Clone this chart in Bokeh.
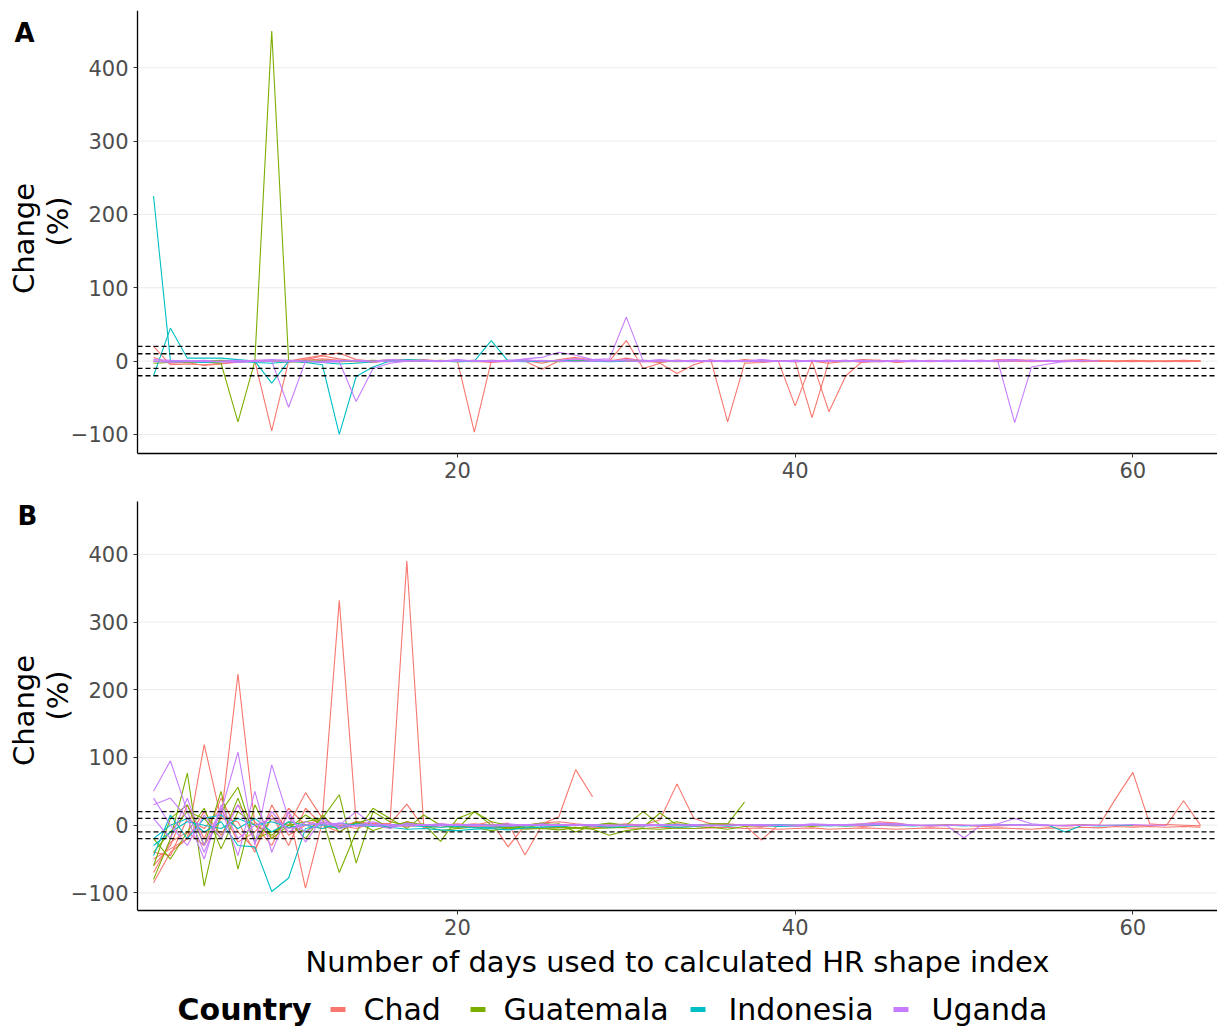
import math
from bokeh.plotting import figure
from bokeh.layouts import column
from bokeh.models import Label, FixedTicker, Range1d
from bokeh.embed import file_html
from bokeh.resources import INLINE
from bokeh.core.properties import value

# ---------------- data ----------------
countries = ["Chad", "Guatemala", "Indonesia", "Uganda"]
colors = ["#F8766D", "#7CAE00", "#00BFC4", "#C77CFF"]

x_ticks = [20, 40, 60]
y_ticks = [-100, 0, 100, 200, 300, 400]
thresholds = [-20, -10, 10, 20]
x_title = "Number of days used to calculated HR shape index"
y_title = ["Change", "(%)"]
legend_title = "Country"

# Panel A: one entry per individual -> country, first day, % change per day
a_country = ["Chad", "Chad", "Chad", "Chad", "Guatemala", "Guatemala",
             "Indonesia", "Indonesia", "Uganda", "Uganda", "Uganda"]
a_start = [2, 2, 10, 30, 2, 2, 2, 2, 2, 2, 2]
a_values = [
    [20, -5, -4, -5, -3, -2, 0, -95,
     0, 2, 7, 3, 0, -2, 1, 0, 2, 0,
     0, -97, 0, 1, 0, -11, 0, 3, 2, 0,
     28, -10, -3, -17, -5, 2, -83, -3, -2, 0,
     -61, 0, -3, 0, 2, 1, -2, 0, 1, 0,
     0, -1, 2, 1, 0, 0, -1, 0, 1, -1,
     0, 0, -1, 0, 0],
    [5, -3, -2, -6, -4, -1, 1, 0,
     -2, 1, 3, 1, -1, 0, 2, 1, 0, -1,
     1, 0, -2, 0, 1, -3, 2, 5, 1, 0,
     4, 0, -2, 1, 0, 0, -1, 2, 0, 0,
     0, -77, 0, 1, -2, 0, 1, 0, -1, 0,
     1, 0, 0, 2, 1, 0, 1, 2, 0, 0,
     -1, 0, 0, 1, 0],
    [0, 4, 8, 11, 2, 0, -1, 0, 1, 0,
     0, 1, 0, -1, 0, 0, 1, 0, 0, 1,
     0, 0, -1, 0, 0, 1, 0, 0, 1, 0,
     0, 0, -69, -20, 0, -1, 0, 1, 0, 0,
     0, 1, 0, 0, -1, 0, 0, 1, 0, 0,
     0, -1, 0, 0, 0],
    [0, -1, 0, 1, 0, -1, 0, 0, 1, 0,
     -1, 0, 1, 0, 0, 1, -1, 0, 0, 1,
     0, 0, -1, 0, 1, 0, 0, -1, 0, 0,
     1, 0, 0, -1, 0],
    [0, -1, -2, -1, -3, -83, 0, 450,
     0, -2, 1, 0, -1, 0, 1, 0, 0, 1,
     0, -1, 0, 0, 1, 0, -1, 0, 1, 0,
     0, 1, 0, -1, 0, 0],
    [-3, -2, -1, 0, 1, 0, -1, 0,
     1, 0, 0, -1, 0, 1, 0, 2, 0, 0,
     -1, 0, 1, 0, 0, -1, 0, 0, 1, 0,
     0, 0, -1, 0, 1, 0, 0, -1, 0, 0,
     1, 0, 0, -1, 0, 0],
    [225, 0, -1, -2, -1, 0, -2, -3,
     -1, 0, -2, -4, -3, -1, 0, 1, 0, 0,
     -1, 0, 0, 1, 0, 0],
    [-20, 45, 4, 4, 4, 2, 0, -30,
     0, -2, -5, -100, -21, -8, 0, 2, 1, 0,
     0, 0, 28, 0, -1, 0, 1, 0, 0, -1,
     0],
    [0, -2, -1, 0, -1, -2, 0, 0,
     -63, 0, -2, -1, -55, -10, -3, 0, 1, 0,
     2, 0, 1, 0, 3, 5, 12, 8, 2, 3,
     60, 0, 2, 0, -1, 1, 0, 0, 2, 0,
     -1, 0, 1, 0, 0, -1, 0, 1, 0, 0,
     1, 0, 0, -84, -8, -4, 0, 1, 0],
    [2, 1, 0, 1, -1, 0, 1, 2,
     1, 0, -1, 0, 1, 0, 2, 1, 0, 0,
     1, 0, 0, 1, 2, 0, 1, 3, 1, 0,
     2, 1, 0, 0, 1, 0, -1, 0, 1, 0,
     0, 1, 0, 0, 1, 0, 0, -1, 0, 1,
     0, 0, 1, 2, 0, 1, 0, 0],
    [-1, 0, 1, -1, 0, 1, -1, 0,
     0, -1, 0, 1, 0, -1, 0, 0, 1, 0,
     0, 1, -1, 0, 0, 1, 0, -1, 0, 1,
     0, -1, 0, 1, 0, 0, 1, 0, -1, 0,
     1, 0, 0, 1, -1, 0, 1, 0, 0, -1,
     0, 1, 0, 0, 1, 0, -1],
]

# Panel B
b_country = ["Chad", "Chad", "Chad", "Chad", "Chad", "Chad",
             "Guatemala", "Guatemala", "Guatemala", "Guatemala",
             "Indonesia", "Indonesia", "Indonesia",
             "Uganda", "Uganda", "Uganda", "Uganda"]
b_start = [2, 2, 2, 2, 2, 20, 2, 2, 2, 2, 2, 2, 2, 2, 2, 2, 2]
b_values = [
    [-85, -40, -20, 119, 10, 223, 0, -30,
     20, -93, 5, 0, -5, 3, 2, 31, -4, 0,
     2, 0, 5, -32, 0, 2, 12, 82, 42],
    [-60, -30, 30, -20, 40, -10, -35, 10,
     0, 48, 10, 332, 5, 0, 2, 390, 0, -3,
     0, 2, 0, 3, -44, 0, 1, 0, -1, 0,
     2, 0, 8, 61, 10, 2, 2, 0, -22, 0,
     -1, 0, 1, 0, -2, 0, 1, 0, -1, 0,
     0, -1, 0, 1, 0, 0, -1, 0, 0, 40,
     78, 2, 0, 36, 0],
    [-70, -25, -10, -30, 10, 5, -40, 30,
     -15, 0, -5, 0, 3, 0, -3, 5, 0, 2,
     0, 1, 0, -1, 0, 2, 0, 1, -1, 0,
     1, 0, 0, 2, 0, -1, 0, 1, 0, 0,
     -1, 0, 0, 1, 0, 0, -1, 0, 0, 1,
     0],
    [-50, -35, -20, 20, -15, 30, 5, -20,
     25, 0, 10, -3, 5, 2, 0, -2, 0, 1,
     0, -2, 0, 1, 0, 3, 5, 2, 0, -1,
     0, 1, 0, -1, 0, 0, 1, 0, -2, 0,
     0, 1, 0, 0, 2, 5, 3, 0, -1, 0,
     0, -2, -1, 0, 0, -1, 0, 1, 0, 0,
     -1, 0, 1, 0, -1],
    [-40, -45, 10, -5, 25, -25, -10, 15,
     -30, 25, 0, -10, 5, 0, -3, 2, 0, 1,
     0],
    [-3, -2, -4, -3, -5, -4, -3, -5, -4, -3,
     -4, -5, -3, -4, -5, -4, -3, -5, -4, -6,
     -5, -4, -6, -5, -4, -5, -6, -5, -4, -5,
     -6, -5, -4, -5, -6, -4, -5, -3, -4, -2,
     -3, -2, -3, -2, -3],
    [-80, -20, 77, -90, 20, 56, -20, -10,
     0, 5, 10, 45, -56, 20, 5, 0, 2, -24,
     10, 20, 0, -5, 0, 3, 0, -5, 0, 2,
     0, 20, 0, 5, 0, 2, 2, 34],
    [-60, 10, 30, -30, 50, -65, 30, -20,
     0, -10, 10, -70, -10, 25, 10, -5, 15, 0,
     -5, 20, 5, 0, -3, 0, 2, -10, 0, 3,
     0, -3, 18, 0, -2, 0, 1, 0, -1, 0,
     0],
    [-40, -10, 20, 10, -20, 40, -25, 10,
     -5, 15, 0, -5, 3, 10, -5, 5, 0, -8,
     -5, -3, -8, -4, -6, -5, -7, -4, -6, -15,
     -8, -5, -6, -4, -5, -3, -6, -2, 0, -1,
     0, -2, 0, -1, 0, 0],
    [-20, -50, -10, 25, -35, 20, 0, -15,
     5, -20, 15, -10, 5, -8, 0, 4, -2, 0,
     -3, 0, -2, -4, -3, -5, -4, -3, -5, -4,
     -3],
    [-20, 0, 10, -10, 5, -30, -32, -98,
     -78, -5, 0, -5, 2, 0, -3, -6, -5, -7,
     -8, -6, -5, -7, -4, -3, -2, 0, -1, -3,
     -2, 0, -1, -3, -2, 0, -1, 0, 0, -2,
     -1, 0, 0, -1, 0, 0],
    [-30, -10, 5, 0, -5, 10, 0, 5,
     -3, 0, 2, -2, 0, 1, -1, 0, -2, -3,
     -2, -4, -3, -2, 0, -1, -2, 0, 1, -1,
     0, -1, 0, 1, 0, 0, -1, 0, 0, 1,
     0, 0, -1, 0, 0, 1, 0, -1, 0, 0,
     -1, 0, 0, 1, 0, 0, -10, 0, -1, 0,
     0],
    [-45, 15, -20, 10, 15, -5, 10, -10,
     5, 0, -5, 3, 0, -2, 1, 0, -1, 0,
     0, 1, 0, 0, -1, 0],
    [50, 95, 20, -40, 20, 108, -30, 89,
     10, -10, 5, 0, 20, 0, -5, 3, 0, 2,
     0, -1, 0, 2, 0, 1, 0, 0, -1, 0,
     0],
    [30, 40, 10, -50, 30, -20, 0, 10,
     -5, 0, 3, -2, 0, 1, 0, -1, 0, 0,
     1, 0, -1, 0, 0, 2, 0, 1, 0, 0,
     0, 1, 0, 0, -1, 0, 0, 1, 0, 0,
     -1, 0, 0, 1, 2, 3, 2, 0, 0, -1,
     -19, 0, 0, 1, 0, 0, -1, 0, 0, 0,
     1, 0, 0],
    [10, -20, 40, -30, 25, -45, 50, -40,
     20, -25, 10, -5, 0, 5, -2, 0, 1, 0,
     0, 1, 0, -1, 0, 0, 1, 0, 0, -1,
     0, 0, 1, 0, 0, -1, 0, 0, 1, 0,
     0, 2, 1, 0, 0, 1, 0, 0, -1, 0,
     0, 0, 1, 0, 0, 0],
    [40, 0, -30, 15, -20, 30, -25, 20,
     -10, 5, 0, 3, -2, 0, 1, 0, 0, 1,
     0, 0, -1, 0, 1, 0, 0, 0, 1, 0,
     0, -1, 0, 0, 1, 0, 0, 0, -1, 0,
     0, 1, 0, 0, 0, 1, 2, 0, 0, 0,
     0, 0, 2, 10, 2, 0, 0, 0, 0],
]

# ---------------- style / layout ----------------
FONT = "DejaVu Sans"
PAGE_W = 1217
PAGE_H = 1030
PX_PER_DAY = 16.885
AX_LEFT_PX = 137                 # page x of the panel's left edge
X_PANEL_LO = 1.05                # day value at the panel's left edge
X_LO = X_PANEL_LO - AX_LEFT_PX / PX_PER_DAY
X_HI = X_PANEL_LO + (PAGE_W - AX_LEFT_PX) / PX_PER_DAY
Y_LO, Y_HI = -126.0, 478.0       # visible panel limits (both panels)


def build_panel(tag, s_country, s_start, s_values, height, b_top, b_bottom,
                panel_top, panel_h, pad_top, tag_pos, change_pos, pct_pos):
    # the frame starts pad_top px above the drawn panel so that the tag
    # letter has room; the y mapping of the panel itself is unchanged
    units_per_px = (Y_HI - Y_LO) / panel_h
    y_hi_frame = Y_HI + pad_top * units_per_px
    frame_top = panel_top - pad_top
    p = figure(width=PAGE_W, height=height,
               x_range=Range1d(X_LO, X_HI), y_range=Range1d(Y_LO, y_hi_frame),
               output_backend="svg", toolbar_location=None,
               min_border_left=0, min_border_right=0,
               min_border_top=b_top, min_border_bottom=b_bottom)
    p.outline_line_color = None
    p.background_fill_color = "white"
    p.border_fill_color = "white"
    p.grid.visible = False
    p.xaxis.ticker = FixedTicker(ticks=x_ticks)
    p.yaxis.ticker = FixedTicker(ticks=y_ticks)
    p.yaxis.fixed_location = X_PANEL_LO
    p.yaxis.bounds = (Y_LO, Y_HI)
    p.xaxis.bounds = (X_PANEL_LO, X_HI)
    for ax in (p.xaxis, p.yaxis):
        ax.axis_line_color = "black"
        ax.axis_line_width = 1.3
        ax.major_tick_line_color = "#333333"
        ax.major_tick_in = 0
        ax.major_tick_out = 4
        ax.minor_tick_line_color = None
        ax.major_label_text_font = FONT
        ax.major_label_text_font_size = "21px"
        ax.major_label_text_color = "#4D4D4D"
    p.xaxis.major_label_standoff = 4
    p.yaxis.major_label_standoff = 5

    # horizontal major grid lines across the panel only
    p.segment(x0=[X_PANEL_LO] * len(y_ticks), x1=[X_HI] * len(y_ticks),
              y0=y_ticks, y1=y_ticks, line_color="#EBEBEB", line_width=1)

    for c, col in zip(countries, colors):
        xs, ys = [], []
        for sc, st, vals in zip(s_country, s_start, s_values):
            if sc == c:
                xs.append([st + i for i in range(len(vals))])
                ys.append(vals)
        p.multi_line(xs=xs, ys=ys, line_color=col, line_width=1.1)

    # dashed reference lines at +-10 % and +-20 %
    p.segment(x0=[X_PANEL_LO] * len(thresholds), x1=[X_HI] * len(thresholds),
              y0=thresholds, y1=thresholds, line_color="black",
              line_width=1.3, line_dash="5 3")

    def px2x(px):
        return X_LO + px / PX_PER_DAY

    def py2y(py):
        return y_hi_frame - (py - frame_top) * units_per_px

    p.add_layout(Label(x=px2x(tag_pos[0]), y=py2y(tag_pos[1]), text=tag,
                       text_font=FONT, text_font_size="26px",
                       text_font_style="bold", text_align="center",
                       text_baseline="middle", text_color="black"))
    for txt, pos in zip(y_title, (change_pos, pct_pos)):
        p.add_layout(Label(x=px2x(pos[0]), y=py2y(pos[1]), text=txt,
                           angle=math.pi / 2, text_font=FONT,
                           text_font_size="29px", text_align="center",
                           text_baseline="middle", text_color="black"))
    return p


PAD_B = 8
pA = build_panel("A", a_country, a_start, a_values, height=501 - PAD_B,
                 b_top=10, b_bottom=48 - PAD_B, panel_top=10, panel_h=443,
                 pad_top=0, tag_pos=(24, 32), change_pos=(23, 238),
                 pct_pos=(57, 221))
pB = build_panel("B", b_country, b_start, b_values, height=443 + PAD_B,
                 b_top=0, b_bottom=34, panel_top=501, panel_h=409,
                 pad_top=PAD_B, tag_pos=(27, 515), change_pos=(23, 710),
                 pct_pos=(57, 695))

# ---------------- x title + legend row ----------------
ROW_TOP = 501 + 443                   # page y where this row starts
ROW_H = PAGE_H - ROW_TOP
leg = figure(width=PAGE_W, height=ROW_H, x_range=Range1d(0, PAGE_W),
             y_range=Range1d(0, ROW_H), output_backend="svg",
             toolbar_location=None, min_border=0)
leg.axis.visible = False
leg.grid.visible = False
leg.outline_line_color = None
leg.background_fill_color = "white"
leg.border_fill_color = "white"

title_mid = PAGE_H - 961      # x-axis title centre line
leg_mid = PAGE_H - 1009       # legend centre line
leg.text(x=[677], y=[title_mid], text=[x_title], text_font=value(FONT),
         text_font_size="29px", text_align="center", text_baseline="middle",
         text_color="black")

title_x = 177
key_x = [330, 470, 690, 893]
text_x = [363, 503, 728, 931]
key_len = 15

leg.text(x=[title_x], y=[leg_mid], text=[legend_title], text_font=value(FONT),
         text_font_size="30px", text_font_style="bold", text_align="left",
         text_baseline="middle", text_color="black")
for c, col, kx, tx in zip(countries, colors, key_x, text_x):
    leg.line(x=[kx, kx + key_len], y=[leg_mid, leg_mid], line_color=col,
             line_width=5)
    leg.text(x=[tx], y=[leg_mid], text=[c], text_font=value(FONT),
             text_font_size="30px", text_align="left",
             text_baseline="middle", text_color="black")

layout = column(pA, pB, leg, spacing=0)
open("out.html", "w").write(file_html(layout, INLINE))
